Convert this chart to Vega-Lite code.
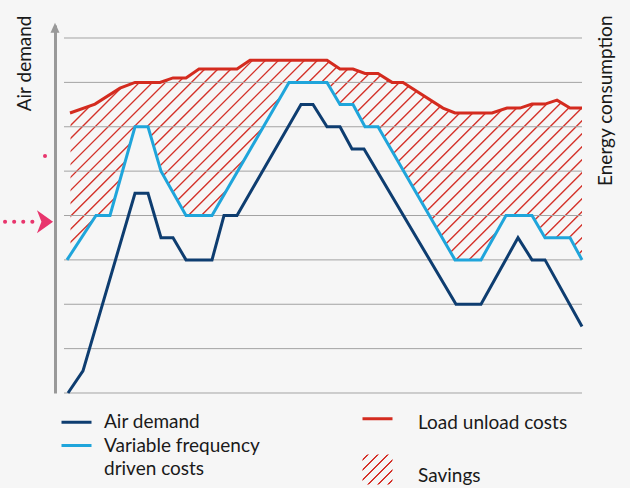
{
  "$schema": "https://vega.github.io/schema/vega-lite/v6.json",
  "width": 518,
  "height": 368,
  "autosize": {"type": "none"},
  "padding": {"left": 64, "top": 25, "right": 48, "bottom": 95},
  "background": "#f6f6f6",
  "config": {"view": {"stroke": null}, "font": "Lato"},
  "datasets": {
    "lines": [
      {"s": "Air demand", "x": 4, "y": 0},
      {"s": "Air demand", "x": 19, "y": 0.5},
      {"s": "Air demand", "x": 71, "y": 4.5},
      {"s": "Air demand", "x": 84, "y": 4.5},
      {"s": "Air demand", "x": 97, "y": 3.5},
      {"s": "Air demand", "x": 109, "y": 3.5},
      {"s": "Air demand", "x": 122, "y": 3},
      {"s": "Air demand", "x": 148, "y": 3},
      {"s": "Air demand", "x": 160, "y": 4},
      {"s": "Air demand", "x": 173, "y": 4},
      {"s": "Air demand", "x": 237, "y": 6.5},
      {"s": "Air demand", "x": 249, "y": 6.5},
      {"s": "Air demand", "x": 263, "y": 6},
      {"s": "Air demand", "x": 276, "y": 6},
      {"s": "Air demand", "x": 288, "y": 5.5},
      {"s": "Air demand", "x": 300, "y": 5.5},
      {"s": "Air demand", "x": 392, "y": 2},
      {"s": "Air demand", "x": 417, "y": 2},
      {"s": "Air demand", "x": 454, "y": 3.5},
      {"s": "Air demand", "x": 468, "y": 3},
      {"s": "Air demand", "x": 481, "y": 3},
      {"s": "Air demand", "x": 518, "y": 1.5},
      {"s": "Variable frequency driven costs", "x": 3, "y": 3},
      {"s": "Variable frequency driven costs", "x": 32, "y": 4},
      {"s": "Variable frequency driven costs", "x": 46, "y": 4},
      {"s": "Variable frequency driven costs", "x": 71, "y": 6},
      {"s": "Variable frequency driven costs", "x": 84, "y": 6},
      {"s": "Variable frequency driven costs", "x": 97, "y": 5},
      {"s": "Variable frequency driven costs", "x": 122, "y": 4},
      {"s": "Variable frequency driven costs", "x": 148, "y": 4},
      {"s": "Variable frequency driven costs", "x": 225, "y": 7},
      {"s": "Variable frequency driven costs", "x": 263, "y": 7},
      {"s": "Variable frequency driven costs", "x": 276, "y": 6.5},
      {"s": "Variable frequency driven costs", "x": 289, "y": 6.5},
      {"s": "Variable frequency driven costs", "x": 301, "y": 6},
      {"s": "Variable frequency driven costs", "x": 314, "y": 6},
      {"s": "Variable frequency driven costs", "x": 391, "y": 3},
      {"s": "Variable frequency driven costs", "x": 417, "y": 3},
      {"s": "Variable frequency driven costs", "x": 442, "y": 4},
      {"s": "Variable frequency driven costs", "x": 468, "y": 4},
      {"s": "Variable frequency driven costs", "x": 481, "y": 3.5},
      {"s": "Variable frequency driven costs", "x": 506, "y": 3.5},
      {"s": "Variable frequency driven costs", "x": 518, "y": 3},
      {"s": "Load unload costs", "x": 6, "y": 6.31},
      {"s": "Load unload costs", "x": 31, "y": 6.51},
      {"s": "Load unload costs", "x": 56, "y": 6.87},
      {"s": "Load unload costs", "x": 71, "y": 7.0},
      {"s": "Load unload costs", "x": 96, "y": 7.0},
      {"s": "Load unload costs", "x": 109, "y": 7.1},
      {"s": "Load unload costs", "x": 122, "y": 7.1},
      {"s": "Load unload costs", "x": 135, "y": 7.3},
      {"s": "Load unload costs", "x": 173, "y": 7.3},
      {"s": "Load unload costs", "x": 186, "y": 7.5},
      {"s": "Load unload costs", "x": 263, "y": 7.5},
      {"s": "Load unload costs", "x": 276, "y": 7.3},
      {"s": "Load unload costs", "x": 289, "y": 7.3},
      {"s": "Load unload costs", "x": 301, "y": 7.2},
      {"s": "Load unload costs", "x": 314, "y": 7.2},
      {"s": "Load unload costs", "x": 328, "y": 7.0},
      {"s": "Load unload costs", "x": 339, "y": 7.0},
      {"s": "Load unload costs", "x": 379, "y": 6.42},
      {"s": "Load unload costs", "x": 391, "y": 6.31},
      {"s": "Load unload costs", "x": 428, "y": 6.31},
      {"s": "Load unload costs", "x": 443, "y": 6.42},
      {"s": "Load unload costs", "x": 456, "y": 6.42},
      {"s": "Load unload costs", "x": 468, "y": 6.51},
      {"s": "Load unload costs", "x": 481, "y": 6.51},
      {"s": "Load unload costs", "x": 493, "y": 6.6},
      {"s": "Load unload costs", "x": 506, "y": 6.42},
      {"s": "Load unload costs", "x": 518, "y": 6.42}
    ],
    "grid": [{"g": 0}, {"g": 1}, {"g": 2}, {"g": 3}, {"g": 4}, {"g": 5}, {"g": 6}, {"g": 7}, {"g": 8}]
  },
  "layer": [
    {
      "data": {"values": [{}]},
      "mark": {"type": "rule", "clip": true, "color": "#d4322a", "strokeWidth": 720, "strokeDash": [1.4, 7.79]},
      "encoding": {
        "x": {"datum": 19, "type": "quantitative", "scale": {"domain": [0, 518], "nice": false, "zero": false}, "axis": null},
        "x2": {"datum": 499},
        "y": {"datum": 9.556, "type": "quantitative", "scale": {"domain": [0, 8.293], "nice": false, "zero": false}, "axis": null},
        "y2": {"datum": -1.263}
      }
    },
    {
      "data": {"name": "lines"},
      "transform": [{"filter": "datum.s === 'Load unload costs'"}],
      "mark": {"type": "area", "fill": "#f6f6f6", "strokeWidth": 0},
      "encoding": {
        "x": {"field": "x", "type": "quantitative", "axis": null},
        "y": {"field": "y", "type": "quantitative", "axis": null},
        "y2": {"datum": 8.293}
      }
    },
    {
      "data": {"name": "lines"},
      "transform": [{"filter": "datum.s === 'Variable frequency driven costs'"}],
      "mark": {"type": "area", "fill": "#f6f6f6", "strokeWidth": 0},
      "encoding": {
        "x": {"field": "x", "type": "quantitative", "axis": null},
        "y": {"field": "y", "type": "quantitative", "axis": null},
        "y2": {"datum": 0}
      }
    },
    {
      "data": {"values": [{}]},
      "mark": {"type": "rect", "fill": "#f6f6f6", "strokeWidth": 0},
      "encoding": {
        "x": {"datum": 0, "axis": null},
        "x2": {"datum": 6.5},
        "y": {"datum": 0, "axis": null},
        "y2": {"datum": 8.293}
      }
    },
    {
      "data": {"name": "grid"},
      "mark": {"type": "rule", "strokeWidth": 1, "color": "#a3a3a3"},
      "encoding": {
        "y": {
          "field": "g", "type": "quantitative",
          "axis": {
            "orient": "right", "title": "Energy consumption", "domain": false, "ticks": false, "labels": false, "grid": false,
            "titleX": 23, "titleY": -10, "titleAngle": 270, "titleAlign": "right", "titleBaseline": "middle",
            "titleFont": "Lato", "titleFontSize": 19, "titleFontWeight": "normal", "titleColor": "#1a1a1a"
          }
        }
      }
    },
    {
      "data": {"name": "lines"},
      "mark": {"type": "line", "strokeWidth": 3},
      "encoding": {
        "x": {"field": "x", "type": "quantitative", "axis": null},
        "y": {
          "field": "y", "type": "quantitative",
          "axis": {
            "orient": "left", "offset": 9, "title": "Air demand", "domainColor": "#999999", "domainWidth": 3,
            "ticks": false, "labels": false, "grid": false,
            "titleX": -31, "titleY": -10, "titleAngle": 270, "titleAlign": "right", "titleBaseline": "middle",
            "titleFont": "Lato", "titleFontSize": 19, "titleFontWeight": "normal", "titleColor": "#1a1a1a"
          }
        },
        "color": {
          "field": "s", "type": "nominal",
          "scale": {
            "domain": ["Air demand", "Variable frequency driven costs", "Load unload costs", "Savings"],
            "range": ["#0e3d70", "#1fa5db", "#d42b1f", "#d4322a"]
          },
          "legend": {
            "orient": "none", "legendX": 3, "legendY": 387, "columns": 2, "title": null, "padding": 0,
            "symbolType": "stroke", "symbolSize": 900, "symbolStrokeWidth": 3,
            "labelFont": "Lato", "labelFontSize": 19, "labelColor": "#1a1a1a", "labelOffset": 18, "labelLimit": 300,
            "columnPadding": 96, "rowPadding": 3,
            "labelExpr": "datum.label == 'Variable frequency driven costs' ? ['Variable frequency', 'driven costs'] : datum.label",
            "encode": {
              "labels": {
                "update": {
                  "lineHeight": {"value": 23},
                  "dx": {"signal": "datum.label === 'Load unload costs' || datum.label === 'Savings' ? 13 : 0"},
                  "dy": {"signal": "datum.label === 'Savings' ? 30 : datum.label === 'Load unload costs' ? 1 : 0"}
                }
              },
              "symbols": {
                "update": {
                  "shape": {"signal": "datum.label === 'Savings' ? 'M-1,0.6L1,0.6L1,2.6L-1,2.6Z' : datum.label === 'Load unload costs' ? 'M-1,-0.2L1,-0.2' : 'stroke'"},
                  "strokeWidth": {"signal": "datum.label === 'Savings' ? 0 : 3"},
                  "fill": {"signal": "datum.label === 'Savings' ? {gradient: 'linear', x1: 0, y1: 0, x2: 1, y2: 1, stops: [{offset: 0.08, color: 'rgba(212,50,42,0)'}, {offset: 0.08, color: '#d4322a'}, {offset: 0.11, color: '#d4322a'}, {offset: 0.11, color: 'rgba(212,50,42,0)'}, {offset: 0.2467, color: 'rgba(212,50,42,0)'}, {offset: 0.2467, color: '#d4322a'}, {offset: 0.2767, color: '#d4322a'}, {offset: 0.2767, color: 'rgba(212,50,42,0)'}, {offset: 0.4133, color: 'rgba(212,50,42,0)'}, {offset: 0.4133, color: '#d4322a'}, {offset: 0.4433, color: '#d4322a'}, {offset: 0.4433, color: 'rgba(212,50,42,0)'}, {offset: 0.58, color: 'rgba(212,50,42,0)'}, {offset: 0.58, color: '#d4322a'}, {offset: 0.61, color: '#d4322a'}, {offset: 0.61, color: 'rgba(212,50,42,0)'}, {offset: 0.7467, color: 'rgba(212,50,42,0)'}, {offset: 0.7467, color: '#d4322a'}, {offset: 0.7767, color: '#d4322a'}, {offset: 0.7767, color: 'rgba(212,50,42,0)'}, {offset: 0.9133, color: 'rgba(212,50,42,0)'}, {offset: 0.9133, color: '#d4322a'}, {offset: 0.9433, color: '#d4322a'}, {offset: 0.9433, color: 'rgba(212,50,42,0)'}]} : 'transparent'"}
                }
              }
            }
          }
        }
      }
    },
    {
      "data": {"values": [{}]},
      "mark": {"type": "point", "shape": "M0,-1L0.9,1L-0.9,1Z", "size": 100, "filled": true, "color": "#999999", "opacity": 1},
      "encoding": {"x": {"datum": -9, "axis": null}, "y": {"datum": 8.232, "axis": null}}
    },
    {
      "data": {"values": [{}]},
      "mark": {"type": "rule", "color": "#e8356d", "strokeWidth": 4, "strokeDash": [0.1, 9], "strokeCap": "round"},
      "encoding": {"x": {"datum": -59, "axis": null}, "x2": {"datum": -31}, "y": {"datum": 3.86, "axis": null}}
    },
    {
      "data": {"values": [{}]},
      "mark": {"type": "point", "shape": "M0.7,0L-0.7,-1L-0.31,0L-0.7,1Z", "size": 529, "filled": true, "color": "#e8356d", "opacity": 1},
      "encoding": {"x": {"datum": -19, "axis": null}, "y": {"datum": 3.86, "axis": null}}
    },
    {
      "data": {"values": [{}]},
      "mark": {"type": "point", "shape": "circle", "size": 16, "filled": true, "color": "#e8356d", "opacity": 1},
      "encoding": {"x": {"datum": -19, "axis": null}, "y": {"datum": 5.34, "axis": null}}
    }
  ],
  "resolve": {"axis": {"y": "independent"}}
}
